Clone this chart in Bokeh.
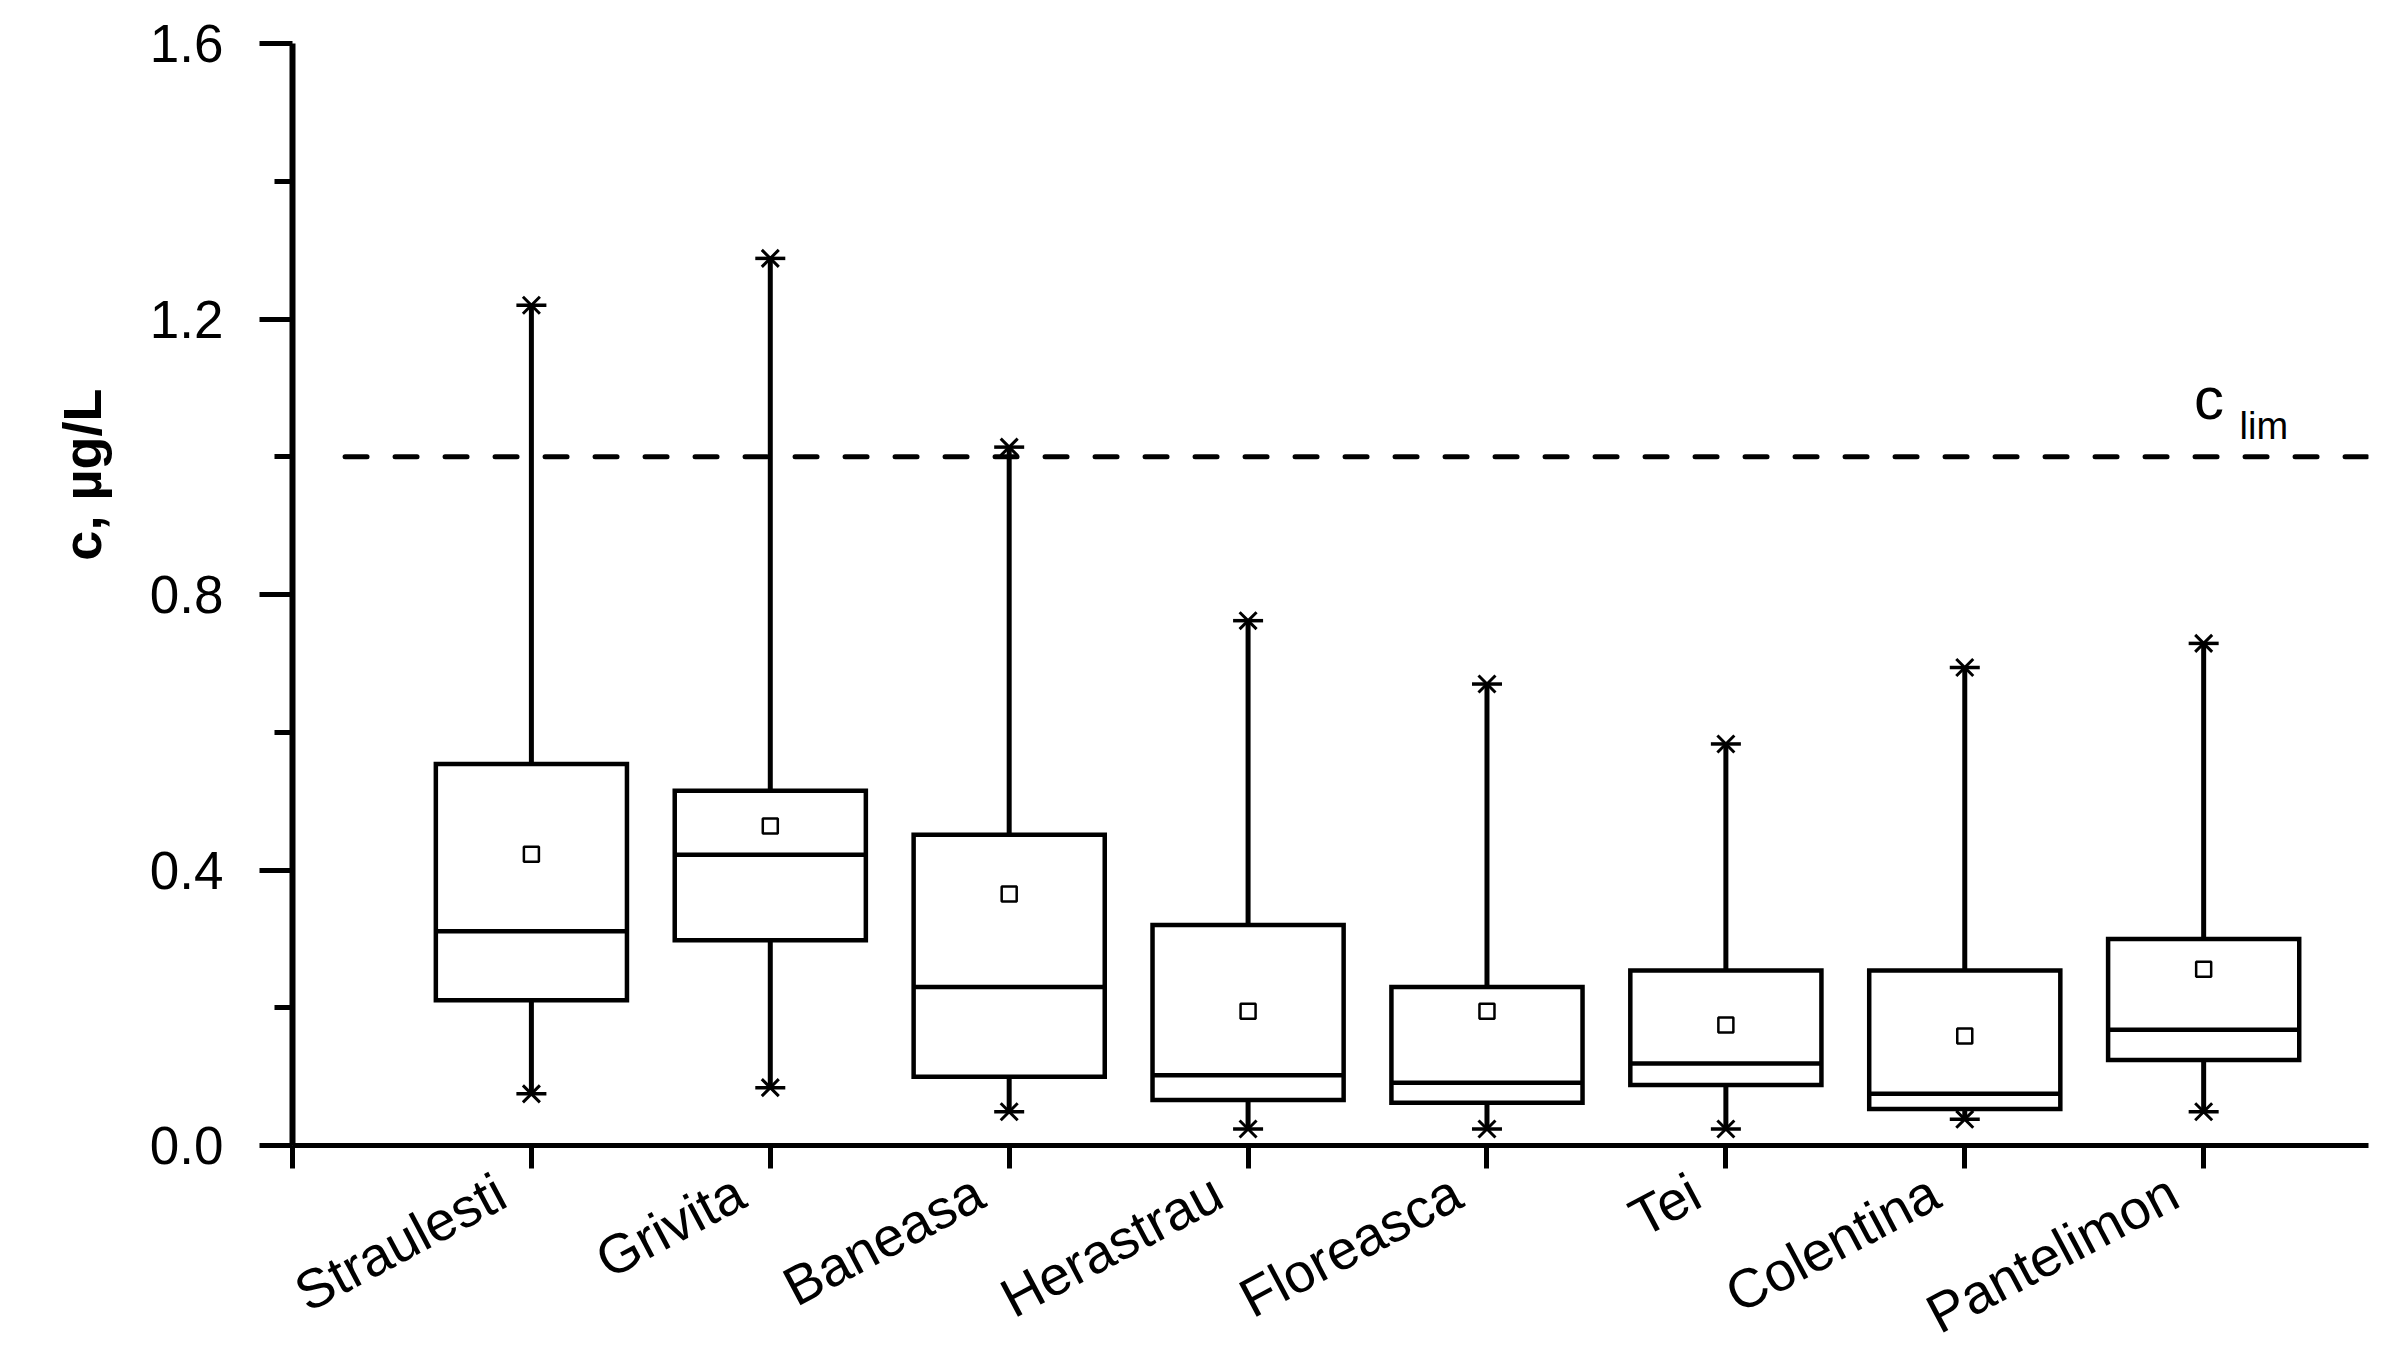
import math
from bokeh.plotting import figure
from bokeh.models import ColumnDataSource, Range1d, FixedTicker, Label, LinearAxis, Title
from bokeh.embed import file_html
from bokeh.resources import INLINE

# ---- data ----
sites = ["Straulesti", "Grivita", "Baneasa", "Herastrau", "Floreasca", "Tei", "Colentina", "Pantelimon"]
max_v = [1.220, 1.288, 1.014, 0.762, 0.670, 0.583, 0.694, 0.729]
q3_v = [0.554, 0.515, 0.451, 0.320, 0.230, 0.254, 0.254, 0.300]
mean_v = [0.423, 0.464, 0.365, 0.195, 0.195, 0.175, 0.159, 0.256]
median_v = [0.311, 0.422, 0.230, 0.102, 0.091, 0.119, 0.075, 0.168]
q1_v = [0.211, 0.298, 0.100, 0.066, 0.062, 0.088, 0.053, 0.124]
min_v = [0.075, 0.084, 0.049, 0.024, 0.024, 0.024, 0.038, 0.049]
c_lim = 1.0
y_ticks = [0.0, 0.4, 0.8, 1.2, 1.6]
y_minor = [0.2, 0.6, 1.0, 1.4]

pos = [i + 1 for i in range(len(sites))]
half = 0.4
label_shift = 0.125  # rotated labels end slightly left of their tick

src = ColumnDataSource(dict(
    x=pos, left=[p - half for p in pos], right=[p + half for p in pos],
    mx=max_v, q3=q3_v, mean=mean_v, med=median_v, q1=q1_v, mn=min_v,
))

FONT = "Liberation Sans"

p = figure(frame_width=2076, frame_height=1102, output_backend="svg", toolbar_location=None,
           x_range=Range1d(0, 8.69), y_range=Range1d(0, 1.6),
           min_border_left=292, min_border_right=10, min_border_top=43, min_border_bottom=150)
p.outline_line_color = None
p.xgrid.visible = False
p.ygrid.visible = False
p.background_fill_color = "white"
p.border_fill_color = "white"

# whiskers
p.segment(x0="x", y0="q3", x1="x", y1="mx", source=src, line_color="black", line_width=5)
p.segment(x0="x", y0="q1", x1="x", y1="mn", source=src, line_color="black", line_width=5)
# boxes
p.quad(left="left", right="right", bottom="q1", top="q3", source=src,
       fill_color="white", line_color="black", line_width=4.5, line_join="miter")
# median
p.segment(x0="left", y0="med", x1="right", y1="med", source=src, line_color="black", line_width=4.5)
# mean
p.scatter(x="x", y="mean", source=src, marker="square", size=15, fill_color="white",
          line_color="black", line_width=2.5)
# min / max stars
for col in ("mx", "mn"):
    p.scatter(x="x", y=col, source=src, marker="dash", size=30, line_color="black", line_width=3.5)
    p.scatter(x="x", y=col, source=src, marker="x", size=24, line_color="black", line_width=3)

# limit line
p.segment(x0=[0.22], y0=[c_lim], x1=[8.69], y1=[c_lim], line_color="black", line_width=5,
          line_dash="22 28", line_cap="round")
p.add_layout(Label(x=7.96, y=c_lim + 0.084, text="c", text_font=FONT, text_font_size="60px",
                   text_baseline="alphabetic", text_align="left", text_color="black"))
p.add_layout(Label(x=8.15, y=c_lim + 0.044, text="lim", text_font=FONT, text_font_size="38px",
                   text_baseline="alphabetic", text_align="left", text_color="black"))

# x axis: ticks only
xa = p.xaxis[0]
xa.ticker = FixedTicker(ticks=[0] + pos)
xa.major_label_overrides = {t: "" for t in [0] + pos}
xa.major_label_text_font_size = "1px"
xa.major_label_standoff = 0
xa.major_tick_in = 0
xa.major_tick_out = 23
xa.minor_tick_line_color = None
xa.axis_line_width = 5
xa.major_tick_line_width = 5
xa.axis_line_color = "black"
xa.major_tick_line_color = "black"

# x axis: category labels
label_pos = [p_ - label_shift for p_ in pos]
xl = LinearAxis(ticker=FixedTicker(ticks=label_pos),
                major_label_overrides={lp: s for lp, s in zip(label_pos, sites)})
xl.axis_line_color = None
xl.major_tick_line_color = None
xl.minor_tick_line_color = None
xl.major_tick_out = 0
xl.major_tick_in = 0
xl.major_label_orientation = math.radians(28)
xl.major_label_text_font = FONT
xl.major_label_text_font_size = "55px"
xl.major_label_text_color = "black"
xl.major_label_standoff = 20
p.add_layout(xl, "below")

# y axis
ya = p.yaxis[0]
ya.ticker = FixedTicker(ticks=y_ticks, minor_ticks=y_minor)
ya.major_label_overrides = {t: f"{t:.1f}" for t in y_ticks}
ya.major_label_text_font = FONT
ya.major_label_text_font_size = "53px"
ya.major_label_text_color = "black"
ya.major_label_standoff = 36
ya.major_tick_in = 0
ya.major_tick_out = 33
ya.minor_tick_in = 0
ya.minor_tick_out = 18
ya.axis_line_width = 6
ya.major_tick_line_width = 5
ya.minor_tick_line_width = 5
ya.axis_line_color = "black"
ya.major_tick_line_color = "black"
ya.minor_tick_line_color = "black"

# y-axis title, set in the upper part of the axis as in the reference
ytitle = Title(text="c, µg/L", align="right", offset=345, vertical_align="top", standoff=66,
               text_font=FONT, text_font_size="54px", text_font_style="bold", text_color="black",
               text_line_height=1.7)
p.add_layout(ytitle, "left")

open("out.html", "w").write(file_html(p, INLINE))
